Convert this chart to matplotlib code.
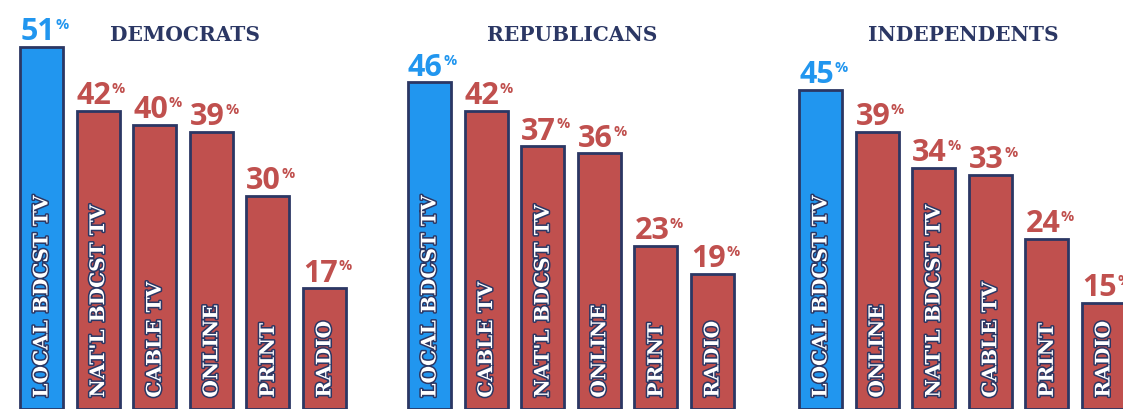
import matplotlib
matplotlib.use("Agg")
import matplotlib.pyplot as plt
import matplotlib.patheffects as pe

groups = ["DEMOCRATS", "REPUBLICANS", "INDEPENDENTS"]
dem_labels = ["LOCAL BDCST TV", "NAT'L BDCST TV", "CABLE TV", "ONLINE", "PRINT", "RADIO"]
dem_values = [51, 42, 40, 39, 30, 17]
rep_labels = ["LOCAL BDCST TV", "CABLE TV", "NAT'L BDCST TV", "ONLINE", "PRINT", "RADIO"]
rep_values = [46, 42, 37, 36, 23, 19]
ind_labels = ["LOCAL BDCST TV", "ONLINE", "NAT'L BDCST TV", "CABLE TV", "PRINT", "RADIO"]
ind_values = [45, 39, 34, 33, 24, 15]

W, H = 1123, 410
PX_PER_UNIT = 7.1          # vertical pixels per percentage point
group_left = [20, 408, 799]  # left edge of first bar in each group (px)
pitch = 56.6
bar_w = 43

BLUE = "#2196ef"
RED = "#c0504e"
NAVY = "#2b3764"

fig = plt.figure(figsize=(W / 100, H / 100), dpi=100)
ax = fig.add_axes([0, 0, 1, 1])
ax.set_xlim(0, W)
ax.set_ylim(0, H / PX_PER_UNIT)
ax.axis("off")

num_font = dict(family="Open Sans", weight="bold")
slab = dict(family="DejaVu Serif", weight="bold")
title_centers = [185, 572, 963]

data = [(dem_labels, dem_values), (rep_labels, rep_values), (ind_labels, ind_values)]
for g, (labels, values) in enumerate(data):
    centers = [group_left[g] + bar_w / 2 + i * pitch for i in range(len(values))]
    colors = [BLUE] + [RED] * (len(values) - 1)
    ax.bar(centers, values, width=bar_w, color=colors, edgecolor=NAVY, linewidth=2)

    for i, (c, v, lab) in enumerate(zip(centers, values, labels)):
        col = colors[i]
        # value label with small % sign
        ax.annotate(str(v), (c, v), xytext=(9.6, 5.5), textcoords="offset points",
                    ha="right", va="baseline", fontsize=22, color=col, **num_font)
        ax.annotate("%", (c, v), xytext=(9.9, 21.5), textcoords="offset points",
                    ha="left", va="top", fontsize=10.5, color=col, **num_font)
        # category label inside bar
        ax.text(c, 1.6, lab, rotation=90, ha="center", va="bottom",
                fontsize=14.5, color="white", **slab,
                path_effects=[pe.withStroke(linewidth=2.2, foreground=NAVY)])

    fig.text(title_centers[g] / W, 1 - 35 / H, groups[g], ha="center", va="center",
             fontsize=14.5, color=NAVY, **slab)

fig.savefig("out.png", dpi=100, facecolor="white")
